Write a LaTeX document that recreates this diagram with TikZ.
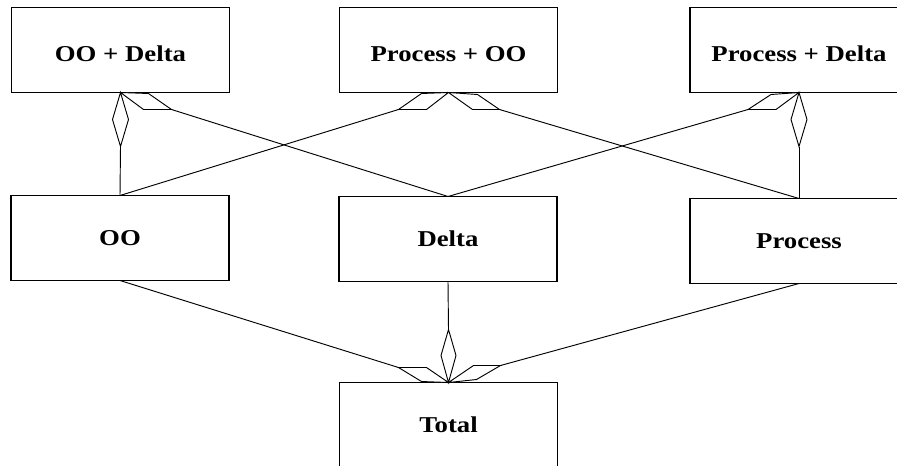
\documentclass[tikz,border=0pt]{standalone}
\usepackage{fontspec}
\setmainfont{Liberation Serif}[FakeStretch=1.18]
\usetikzlibrary{calc}
\begin{document}
\begin{tikzpicture}[x=0.75pt,y=-0.75pt,
  box/.style={draw, line width=1.1pt, outer sep=0pt, inner sep=0pt,
    minimum width=218*0.75pt, minimum height=85*0.75pt,
    font=\bfseries\fontsize{17pt}{20pt}\selectfont},
  toprow/.style={text height=17.5pt, text depth=0pt},
  conn/.style={line width=0.7pt},
  agg/.style={line width=0.7pt, fill=white, line join=miter}]
\useasboundingbox (0,0) rectangle (897,465);
\clip (0,0) rectangle (897,465);
\fill[white] (0,0) rectangle (897,465);
% boxes
\node[box,toprow] (od) at (120.5,50)  {OO + Delta};
\node[box,toprow] (po) at (448.5,50)  {Process + OO};
\node[box,toprow] (pd) at (799,50)    {Process + Delta};
\node[box] (oo) at (120,238)   {OO};
\node[box] (de) at (448,239)   {Delta};
\node[box] (pr) at (799,241)   {Process};
\node[box] (to) at (448.5,425) {Total};
% diamond end points
\coordinate (a1) at ($(od.south)+(0,54)$);
\coordinate (a2) at ($(od.south)+(51,17)$);
\coordinate (b1) at ($(po.south)+(-50,17)$);
\coordinate (b2) at ($(po.south)+(51,17)$);
\coordinate (c1) at ($(pd.south)+(-51,17)$);
\coordinate (c2) at ($(pd.south)+(0,54)$);
\coordinate (t1) at ($(to.north)+(-50,-15)$);
\coordinate (t2) at ($(to.north)+(0,-53)$);
\coordinate (t3) at ($(to.north)+(52,-17)$);
% connectors
\draw[conn] (a1) -- (oo.north);
\draw[conn] (a2) -- (de.north);
\draw[conn] (b1) -- (oo.north);
\draw[conn] (b2) -- (pr.north);
\draw[conn] (c1) -- (de.north);
\draw[conn] (c2) -- (pr.north);
\draw[conn] (t1) -- (oo.south);
\draw[conn] (t2) -- (de.south);
\draw[conn] (t3) -- (pr.south);
% aggregation diamonds
\draw[agg] (od.south) -- ++(-8,27) -- (a1) -- ($(od.south)+(8,27)$) -- cycle;
\draw[agg] (od.south) -- ++(28,1) -- (a2) -- ($(od.south)+(23,17)$) -- cycle;
\draw[agg] (po.south) -- ++(-27,1) -- (b1) -- ($(po.south)+(-22,17)$) -- cycle;
\draw[agg] (po.south) -- ++(29,2) -- (b2) -- ($(po.south)+(24,17)$) -- cycle;
\draw[agg] (pd.south) -- ++(-28,2) -- (c1) -- ($(pd.south)+(-23,17)$) -- cycle;
\draw[agg] (pd.south) -- ++(-8,27) -- (c2) -- ($(pd.south)+(8,27)$) -- cycle;
\draw[agg] (to.north) -- ++(-27,-1) -- (t1) -- ($(to.north)+(-22,-15)$) -- cycle;
\draw[agg] (to.north) -- ++(-7.5,-27) -- (t2) -- ($(to.north)+(7.5,-27)$) -- cycle;
\draw[agg] (to.north) -- ++(28,-3) -- (t3) -- ($(to.north)+(25,-17)$) -- cycle;
\end{tikzpicture}
\end{document}
